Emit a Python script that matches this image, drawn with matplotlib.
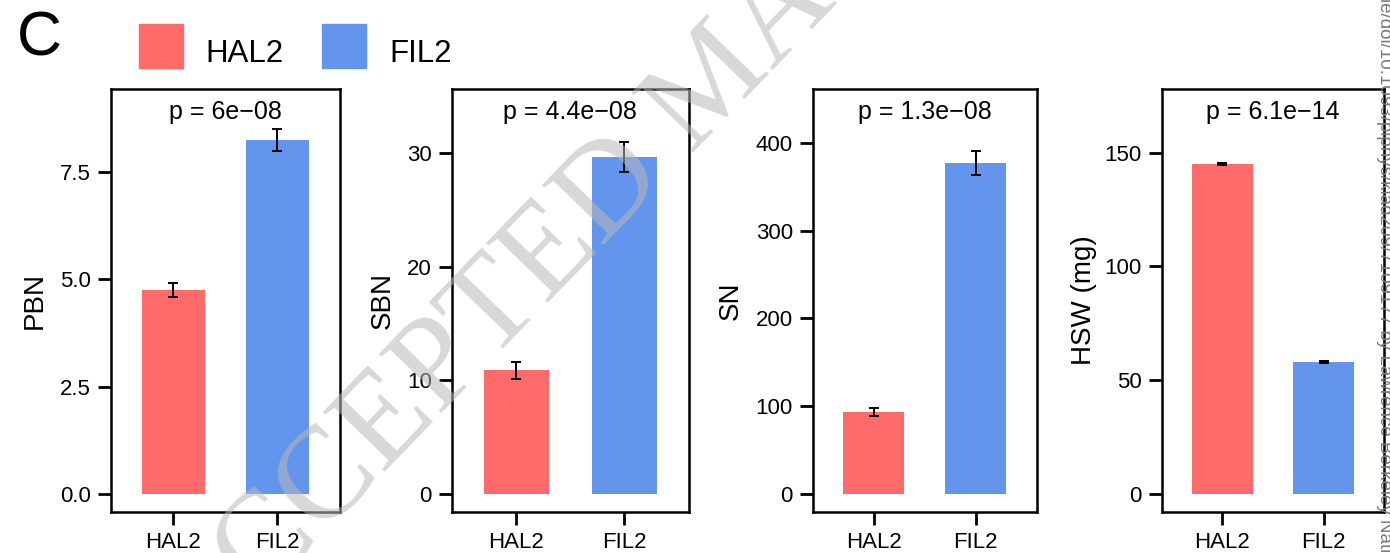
import matplotlib
matplotlib.use("Agg")
import matplotlib.pyplot as plt
from matplotlib.patches import Rectangle

plt.rcParams['font.family'] = ['Liberation Sans', 'DejaVu Sans']

# ---------------- data ----------------
categories = ['HAL2', 'FIL2']
bar_colors = ['#FF6A6A', '#6495ED']

pbn_mean = [4.75, 8.25]
pbn_err = [0.17, 0.25]
sbn_mean = [10.9, 29.65]
sbn_err = [0.75, 1.3]
sn_mean = [93.2, 377.0]
sn_err = [4.7, 13.3]
hsw_mean = [145.0, 58.0]
hsw_err = [0.6, 0.3]

p_labels = ['p = 6e\u221208', 'p = 4.4e\u221208', 'p = 1.3e\u221208', 'p = 6.1e\u221214']
y_labels = ['PBN', 'SBN', 'SN', 'HSW (mg)']
yticks_pbn = [0, 2.5, 5.0, 7.5]
yticklabels_pbn = ['0.0', '2.5', '5.0', '7.5']
yticks_sbn = [0, 10, 20, 30]
yticks_sn = [0, 100, 200, 300, 400]
yticks_hsw = [0, 50, 100, 150]

panel_means = [pbn_mean, sbn_mean, sn_mean, hsw_mean]
panel_errs = [pbn_err, sbn_err, sn_err, hsw_err]
panel_ticks = [yticks_pbn, yticks_sbn, yticks_sn, yticks_hsw]
panel_ticklabels = [yticklabels_pbn, [str(v) for v in yticks_sbn],
                    [str(v) for v in yticks_sn], [str(v) for v in yticks_hsw]]

# ---------------- layout ----------------
W, H = 1390, 553
fig = plt.figure(figsize=(W / 100, H / 100), dpi=100)

ax_lr = [(110.7, 340.0), (451.7, 689.0), (812.7, 1036.7), (1161.7, 1384.3)]
ax_top, ax_bot = 89.0, 512.0
ylims = [(-0.427, 9.445), (-1.61, 35.66), (-20.8, 461.3), (-8.0, 178.0)]
ylabel_x = [34.5, 383.0, 731.0, 1084.0]

for i in range(4):
    l, r = ax_lr[i]
    ax = fig.add_axes([l / W, 1 - ax_bot / H, (r - l) / W, (ax_bot - ax_top) / H])
    x = list(range(len(categories)))
    ax.bar(x, panel_means[i], width=0.6, color=bar_colors, zorder=2)
    ax.errorbar(x, panel_means[i], yerr=panel_errs[i], fmt='none', ecolor='black',
                elinewidth=1.4, capsize=3.8, capthick=1.4, zorder=3)
    ax.set_xlim(-0.6, 1.6)
    ax.set_ylim(*ylims[i])
    ax.set_xticks(x)
    ax.set_xticklabels(categories)
    ax.set_yticks(panel_ticks[i])
    ax.set_yticklabels(panel_ticklabels[i])
    ax.tick_params(axis='both', length=9.1, width=2.0, pad=5.2, labelsize=16,
                   colors='black')
    for sp in ax.spines.values():
        sp.set_linewidth(1.8)
        sp.set_color('black')
    ax.text(0.5, 0.928, p_labels[i], transform=ax.transAxes, ha='center',
            va='baseline', fontsize=18)
    fig.text(ylabel_x[i] / W, 1 - 300.5 / H, y_labels[i], rotation=90,
             ha='center', va='center', fontsize=20)

# panel letter
fig.text(17 / W, 1 - 56 / H, 'C', fontsize=45, ha='left', va='baseline')

# legend
leg_x = [139, 322]
leg_text_x = [205, 389]
for k, cat in enumerate(categories):
    fig.patches.append(Rectangle((leg_x[k] / W, 1 - 68 / H), 44 / W, 44 / H,
                                 transform=fig.transFigure, color=bar_colors[k],
                                 figure=fig))
    fig.text(leg_text_x[k] / W, 1 - 62 / H, cat, fontsize=22.5, ha='left',
             va='baseline')

# watermark
fig.text(715 / W, 1 - 84 / H, 'ACCEPTED MANUSCRIPT', family='Liberation Serif',
         fontsize=95, color=(0.72, 0.72, 0.72), alpha=0.55, rotation=46,
         rotation_mode='anchor', ha='center', va='center', zorder=10)
fig.text(1380 / W, 1 + 2 / H,
         'le/doi/10.1093/plphys/kiad209/7109177 by Lawrence Berkeley National Lab user on 01 June 2023',
         fontsize=13.5, color='#7a7a7a', rotation=-90, rotation_mode='anchor',
         ha='left', va='baseline', zorder=10)

fig.savefig('out.png', dpi=100)
